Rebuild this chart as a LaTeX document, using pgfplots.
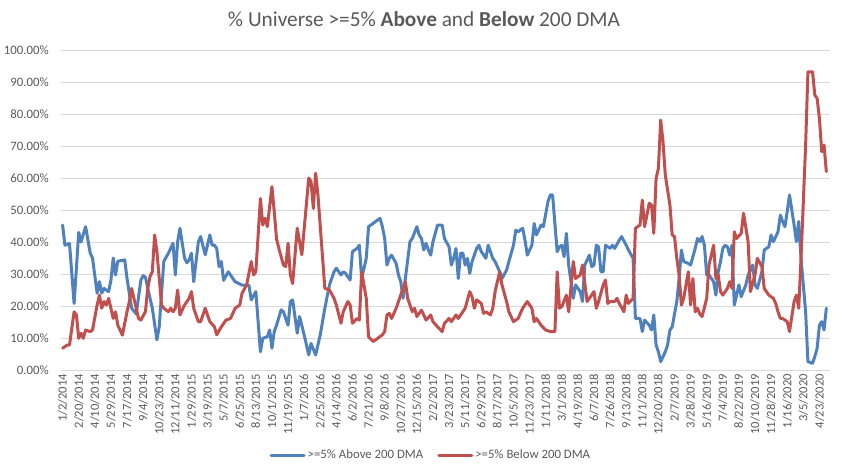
\documentclass[border=0pt]{standalone}
\usepackage{pgfplots}
\pgfplotsset{compat=1.18}
\usepackage{fontspec}
\setmainfont{Carlito}
\definecolor{xlblue}{HTML}{4F81BD}
\definecolor{xlred}{HTML}{C0504D}
\definecolor{txtgray}{HTML}{595959}
\definecolor{gridgray}{HTML}{D9D9D9}
\begin{document}
\begin{tikzpicture}
\useasboundingbox (0,0) rectangle (845bp,465bp);
\node[text=txtgray, font=\fontsize{21.3bp}{24bp}\selectfont] at (424bp,446bp) {\% Universe >=5\% \textbf{Above} and \textbf{Below} 200 DMA};
\begin{axis}[
  scale only axis,
  width=769bp, height=320bp,
  anchor=south west, at={(61bp,95bp)},
  xmin=-0.7, xmax=333.6,
  ymin=0, ymax=100,
  axis line style={draw=none},
  ytick={0,10,...,100},
  ymajorgrids, grid style={gridgray, line width=0.8bp},
  major tick length=0pt,
  /pgf/number format/assume math mode=true,
  yticklabel={\pgfmathprintnumber[fixed,fixed zerofill,precision=2]{\tick}\%},
  yticklabel style={text=txtgray, font=\fontsize{12.8bp}{14bp}\selectfont, anchor=east, inner sep=0pt, xshift=-12bp},
  xtick={0,7,...,329},
  xticklabels={1/2/2014,2/20/2014,4/10/2014,5/29/2014,7/17/2014,9/4/2014,10/23/2014,12/11/2014,1/29/2015,3/19/2015,5/7/2015,6/25/2015,8/13/2015,10/1/2015,11/19/2015,1/7/2016,2/25/2016,4/14/2016,6/2/2016,7/21/2016,9/8/2016,10/27/2016,12/15/2016,2/2/2017,3/23/2017,5/11/2017,6/29/2017,8/17/2017,10/5/2017,11/23/2017,1/11/2018,3/1/2018,4/19/2018,6/7/2018,7/26/2018,9/13/2018,11/1/2018,12/20/2018,2/7/2019,3/28/2019,5/16/2019,7/4/2019,8/22/2019,10/10/2019,11/28/2019,1/16/2020,3/5/2020,4/23/2020},
  xticklabel style={text=txtgray, font=\fontsize{12.5bp}{14bp}\selectfont, yshift=-4bp, rotate=90, anchor=east, inner sep=0pt},
  legend style={draw=none, fill=none, at={(0.481,-0.266)}, anchor=center, legend columns=2,
    font=\fontsize{12.8bp}{14bp}\selectfont, text=txtgray,
    /tikz/every even column/.append style={column sep=12bp}},
  legend image code/.code={\draw[#1] (0bp,0bp) -- (33bp,0bp);},
]
\addplot[xlblue, line width=3bp, line join=round, line cap=round] coordinates {
(0,45.3)(1,39)(3,39.5)(5,20.8)(7,43)(8,40)(10,44.8)(12,36.5)(13,35)(15,24)(16,27.6)(17,24)(18,25.5)(20,24.5)(21,28)(22,35)(23,29.7)(24,34)(27,34.4)(28,28.6)(30,19.3)(32,17.5)(34,28)(35,29.5)(36,29)(38,22.4)(39,19.3)(41,9.4)(42,13.5)(44,34)(46,36.5)(48,39.6)(49,29.7)(50,40)(51,44.3)(53,35)(54,33.5)(55,34.4)(56,36.5)(57,27.6)(59,40)(60,41.7)(62,36)(64,42.2)(65,39)(66,39)(67,38)(68,32.3)(69,33.9)(70,28)(72,30.7)(75,27.6)(78,26.5)(81,26.5)(82,21.9)(84,24.5)(86,5.7)(87,9.9)(89,10.4)(90,12.5)(91,6.8)(92,12)(93,14)(95,18.8)(96,18.2)(98,14)(99,21.4)(100,21.9)(102,11.5)(103,16.7)(105,11)(107,4.7)(108,8.3)(110,4.7)(112,11)(114,19.3)(116,26.6)(118,30.7)(119,31.8)(121,29.7)(122,30.7)(123,30.2)(125,28.1)(126,37)(128,38)(129,39)(130,28.6)(132,34.9)(133,44.8)(134,45.3)(137,46.9)(138,47.4)(139,44.8)(140,41.1)(141,32.8)(142,34.9)(143,35.9)(145,33.3)(146,29.7)(147,27.6)(148,22.4)(149,28.6)(151,40.1)(152,41.1)(154,44.8)(155,42.2)(156,41.1)(157,37.5)(158,39.6)(159,37.5)(160,35.9)(161,40.1)(163,45.3)(165,45.3)(166,41.1)(168,38.5)(169,32.8)(170,34.9)(171,38)(172,28.6)(173,36.5)(174,36.5)(175,32.8)(176,34.9)(177,30.2)(178,33.9)(180,38)(181,39)(182,37)(184,34.9)(185,39)(187,34.9)(188,33.9)(190,30.7)(191,28.6)(193,31.2)(194,33.9)(196,39)(197,43.7)(198,43.2)(200,44.3)(201,40.6)(202,35.9)(204,39)(205,45.8)(206,42.2)(208,45.3)(209,44.8)(211,52.6)(212,54.7)(213,54.7)(215,37)(216,38.5)(217,39)(218,35.4)(219,42.7)(220,32.8)(222,22.4)(223,26.6)(225,24.5)(226,21.4)(227,32.8)(229,35.9)(230,32.3)(231,32.8)(232,39)(233,38.5)(234,30.7)(235,30.7)(236,39)(238,38)(239,39)(240,38)(242,40.6)(243,41.7)(245,39)(246,37.5)(248,34.9)(249,16.1)(251,16.1)(252,12)(253,15.6)(255,14)(256,12.5)(257,17.2)(258,7.8)(259,5.7)(260,2.6)(262,5.7)(263,7.8)(264,12.5)(265,13.5)(267,21.4)(268,28.6)(269,37.5)(270,33.9)(272,33.3)(273,32.8)(275,38)(276,41.1)(277,40.1)(278,41.7)(279,39)(280,29.7)(281,29.7)(283,27.6)(284,23.4)(285,30.7)(286,33.9)(287,38)(288,39)(289,38.5)(290,35.9)(291,39)(292,20.3)(294,26.6)(295,22.9)(297,26.6)(298,29.7)(300,32.8)(301,26.6)(302,25.5)(304,30.7)(305,37.5)(307,38.5)(308,42.2)(309,40.1)(311,43.2)(312,48.4)(313,46.4)(314,44.8)(315,49.5)(316,54.7)(318,45.3)(319,40.1)(320,46.4)(321,34.9)(323,18.2)(324,2.6)(326,2.1)(327,4.2)(328,6.8)(329,14)(330,15.1)(331,12.5)(332,19.3)
};
\addlegendentry{>=5\% Above 200 DMA}
\addplot[xlred, line width=3bp, line join=round, line cap=round] coordinates {
(0,6.8)(2,7.8)(3,7.8)(5,18.2)(6,17.2)(7,9.9)(8,11.5)(9,9.9)(10,12.5)(12,12)(13,12.5)(15,20.3)(16,23.4)(17,19.3)(18,21.4)(19,20.3)(20,22.4)(21,19.3)(22,16.1)(23,18.2)(24,14)(26,10.9)(28,18.2)(29,21.4)(30,25.5)(32,19.3)(33,16.1)(34,15.6)(36,18.2)(37,25.5)(38,29.2)(39,30.7)(40,42.2)(41,37)(43,20.3)(44,19.3)(46,18.2)(47,19.3)(48,18.2)(49,19.3)(50,25)(51,17.2)(53,20.3)(55,22.4)(56,24.5)(57,19.3)(59,15.1)(60,15.1)(62,19.3)(64,15.1)(66,13.5)(67,11)(69,13.5)(71,15.6)(73,16.1)(75,19.3)(77,20.3)(78,24)(80,26.6)(82,33.9)(83,29.7)(84,30.7)(86,53.6)(87,45.3)(88,47.4)(89,44.8)(91,57.3)(92,49.5)(93,41)(94,38)(96,32.8)(97,32.3)(98,39.6)(99,29.7)(100,27)(102,44.3)(104,36)(107,60)(108,58.9)(109,50.5)(110,61.5)(111,54.7)(114,25.5)(116,25)(118,22.4)(119,20.3)(121,14.6)(122,18.2)(124,21.4)(125,20.3)(126,14.6)(128,16.1)(129,15.6)(130,30.7)(132,22.4)(133,10.4)(135,8.9)(137,9.9)(139,11)(140,12)(141,17.2)(142,17.7)(143,16.1)(145,19.3)(146,21.4)(148,25.5)(149,27.6)(150,22.4)(152,18.2)(153,19.3)(154,16.7)(156,18.7)(157,17.2)(158,15.6)(160,17.2)(161,15.1)(163,13.5)(165,12)(166,14.6)(168,16.1)(169,15.1)(171,17.2)(172,16.1)(174,18.2)(175,19.3)(177,24.5)(178,22.9)(179,19.3)(180,21.9)(182,20.8)(183,17.7)(184,18.2)(186,17.2)(187,19.3)(188,24.5)(190,30.7)(191,26.6)(193,21.4)(194,18.2)(196,15.1)(198,16.1)(200,19.3)(202,21.4)(204,19.3)(205,15.1)(206,16.1)(208,14)(210,12.5)(212,12)(214,12)(215,30.7)(216,19.3)(217,19.8)(219,23.4)(220,18.2)(222,33.9)(223,28.6)(225,29.7)(226,32.8)(228,21.4)(229,22.4)(231,24.5)(232,19.3)(233,21.4)(235,26.6)(236,28.1)(237,20.8)(238,21.4)(240,21.4)(241,22.4)(242,20.8)(244,18.2)(245,23.4)(246,20.8)(248,22.4)(249,44.3)(251,45.3)(252,53.1)(253,44.8)(254,48.4)(255,52.1)(256,51.6)(257,42.7)(258,59.9)(259,63)(260,78.1)(261,71.4)(262,60.9)(264,51.6)(265,42.2)(266,41.7)(267,34.9)(268,29.7)(269,20.3)(270,22.4)(272,30.7)(273,20.3)(274,28.6)(275,18.2)(276,19.3)(277,17.5)(278,16.7)(280,22.4)(281,32.8)(283,39)(284,28.6)(285,29.7)(286,24.5)(287,23.4)(289,25.5)(290,27.6)(291,25.5)(292,43.2)(293,41.1)(295,42.7)(296,49)(298,40.1)(299,24.5)(301,29.7)(302,34.9)(304,32.3)(305,25.5)(307,23.4)(308,22.9)(309,22.4)(310,20.8)(311,18.2)(312,16.1)(313,16.1)(315,15.1)(316,12)(318,21.4)(319,23.4)(320,19.3)(321,34.9)(323,70.3)(324,93.2)(326,93.2)(327,85.9)(328,84.9)(329,78.6)(330,68.2)(331,70.3)(332,62)
};
\addlegendentry{>=5\% Below 200 DMA}
\end{axis}
\end{tikzpicture}
\end{document}
